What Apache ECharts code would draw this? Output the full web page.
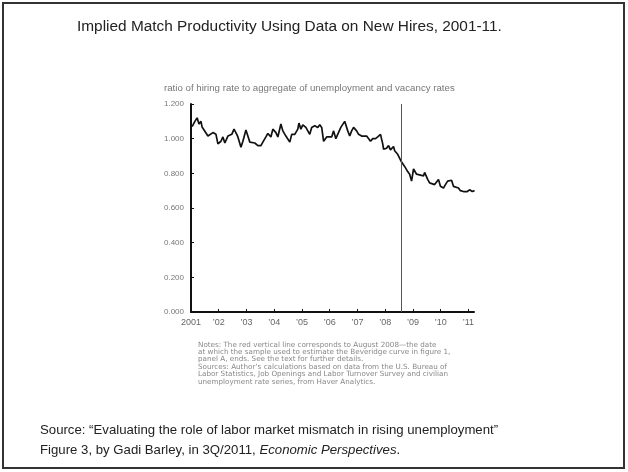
<!DOCTYPE html>
<html>
<head>
<meta charset="utf-8">
<script src="https://cdn.jsdelivr.net/npm/echarts@6/dist/echarts.min.js"></script>
<style>
  html, body { margin: 0; padding: 0; background: #fff; }
  #chart { width: 628px; height: 472px; }
</style>
</head>
<body>
<div id="chart"></div>
<script>
  // positions on the time axis (decimal years) and the ratio read at each
  var years = [
    2001.04, 2001.14, 2001.22, 2001.29, 2001.36, 2001.40, 2001.47, 2001.54, 2001.61, 2001.68, 2001.79, 2001.90, 2001.97,
    2002.08, 2002.15, 2002.22, 2002.33, 2002.40, 2002.47, 2002.55, 2002.65, 2002.69, 2002.80, 2002.87, 2002.98,
    2003.05, 2003.12, 2003.19, 2003.30, 2003.41, 2003.52, 2003.59, 2003.70, 2003.77, 2003.88, 2003.95,
    2004.06, 2004.13, 2004.24, 2004.31, 2004.42, 2004.49, 2004.56, 2004.63, 2004.74, 2004.85, 2004.89, 2004.96,
    2005.03, 2005.14, 2005.21, 2005.28, 2005.35, 2005.46, 2005.57, 2005.64, 2005.71, 2005.78, 2005.89, 2005.96,
    2006.07, 2006.14, 2006.22, 2006.29, 2006.40, 2006.47, 2006.54, 2006.65, 2006.72, 2006.79, 2006.86, 2006.97,
    2007.04, 2007.15, 2007.22, 2007.33, 2007.40, 2007.47, 2007.55, 2007.65, 2007.73, 2007.83, 2007.91, 2007.94,
    2008.05, 2008.12, 2008.19, 2008.30, 2008.34, 2008.41, 2008.45, 2008.52, 2008.59, 2008.66, 2008.70, 2008.81, 2008.88, 2008.95,
    2009.02, 2009.06, 2009.13, 2009.20, 2009.27, 2009.38, 2009.42, 2009.53, 2009.60, 2009.67, 2009.78, 2009.85, 2009.92, 2009.99,
    2010.10, 2010.17, 2010.25, 2010.32, 2010.39, 2010.46, 2010.53, 2010.64, 2010.71, 2010.82, 2010.89, 2010.96,
    2011.04, 2011.14, 2011.22
  ];
  var ratio = [
    1.07, 1.10, 1.12, 1.085, 1.10, 1.067, 1.05, 1.04, 1.015, 1.025, 1.035, 1.025, 0.97,
    0.985, 1.01, 0.975, 1.015, 1.01, 1.025, 1.055, 1.025, 1.01, 0.95, 0.985, 1.05,
    1.015, 0.98, 0.97, 0.975, 0.96, 0.96, 0.98, 1.01, 1.03, 1.01, 1.055,
    1.035, 1.01, 1.085, 1.045, 1.015, 1.01, 0.98, 1.025, 1.025, 1.055, 1.09, 1.055,
    1.08, 1.065, 1.055, 1.025, 1.065, 1.075, 1.065, 1.08, 1.065, 0.985, 1.01, 1.005,
    1.01, 1.045, 1.0, 1.01, 1.065, 1.075, 1.10, 1.045, 1.015, 1.045, 1.065, 1.045,
    1.025, 1.015, 1.025, 1.015, 1.01, 0.985, 1.0, 1.0, 1.01, 1.025, 0.97, 0.94,
    0.945, 0.96, 0.935, 0.955, 0.93, 0.935, 0.91, 0.90, 0.865, 0.865, 0.84, 0.81, 0.795, 0.755,
    0.825, 0.83, 0.795, 0.805, 0.79, 0.785, 0.805, 0.765, 0.745, 0.755, 0.735, 0.745, 0.765, 0.725,
    0.715, 0.735, 0.755, 0.745, 0.76, 0.725, 0.735, 0.715, 0.70, 0.695, 0.69, 0.695,
    0.705, 0.695, 0.70
  ];
  var cutoff = 2008.58;   // August 2008

  var title = 'Implied Match Productivity Using Data on New Hires, 2001-11.';
  var subtitle = 'ratio of hiring rate to aggregate of unemployment and vacancy rates';
  var notes = [
    'Notes: The red vertical line corresponds to August 2008\u2014the date',
    'at which the sample used to estimate the Beveridge curve in figure 1,',
    'panel A, ends. See the text for further details.',
    'Sources: Author\u2019s calculations based on data from the U.S. Bureau of',
    'Labor Statistics, Job Openings and Labor Turnover Survey and civilian',
    'unemployment rate series, from Haver Analytics.'
  ];
  var source1 = 'Source: \u201cEvaluating the role of labor market mismatch in rising unemployment\u201d';
  var source2a = 'Figure 3, by Gadi Barley, in 3Q/2011, ';
  var source2b = 'Economic Perspectives';

  var points = years.map(function (y, i) { return [y, ratio[i]]; });

  var chart = echarts.init(document.getElementById('chart'));
  chart.setOption({
    backgroundColor: '#fff',
    animation: false,
    grid: { left: 191, top: 104, width: 283, height: 208 },
    xAxis: {
      type: 'value', min: 2001, max: 2011.2, interval: 1,
      axisLine: { lineStyle: { color: '#111', width: 2 } },
      axisTick: { inside: true, length: 3, lineStyle: { color: '#111' } },
      splitLine: { show: false },
      axisLabel: {
        color: '#666', fontSize: 9, fontFamily: 'Liberation Sans', margin: 6,
        showMaxLabel: false,
        formatter: function (v) {
          if (Math.abs(v - Math.round(v)) > 0.01) return '';
          if (Math.round(v) === 2001) return '2001';
          return '\u2019' + String(Math.round(v) % 100).padStart(2, '0');
        }
      }
    },
    yAxis: {
      type: 'value', min: 0, max: 1.2, interval: 0.2,
      axisLine: { show: true, lineStyle: { color: '#111', width: 2 } },
      axisTick: { show: true, inside: true, length: 3, lineStyle: { color: '#111' } },
      splitLine: { show: false },
      axisLabel: {
        color: '#777', fontSize: 8, fontFamily: 'Liberation Sans', margin: 7,
        formatter: function (v) { return v.toFixed(3); }
      }
    },
    series: [{
      type: 'line',
      data: points,
      showSymbol: false,
      lineStyle: { color: '#111', width: 1.7 },
      markLine: {
        silent: true,
        symbol: 'none',
        label: { show: false },
        lineStyle: { color: '#555', width: 1, type: 'solid' },
        data: [{ xAxis: cutoff }]
      }
    }],
    graphic: [
      { type: 'rect', shape: { x: 3, y: 3, width: 621, height: 465 },
        style: { fill: 'none', stroke: '#333', lineWidth: 2 } },
      { type: 'text', left: 77, top: 19,
        style: { text: title, font: '15.4px "Liberation Sans"', fill: '#222' } },
      { type: 'text', left: 164, top: 83,
        style: { text: subtitle, font: '9.7px "Liberation Sans"', fill: '#777' } },
      { type: 'text', left: 198, top: 341,
        style: { text: notes.join('\n'), font: '7.2px "DejaVu Sans"', lineHeight: 7.4, fill: '#888' } },
      { type: 'text', left: 40, top: 424,
        style: { text: source1, font: '13.2px "Liberation Sans"', fill: '#222' } },
      { type: 'text', left: 40, top: 444,
        style: {
          text: '{n|' + source2a + '}{i|' + source2b + '}{n|.}',
          rich: {
            n: { font: '13.2px "Liberation Sans"', fill: '#222' },
            i: { font: 'italic 13.2px "Liberation Sans"', fill: '#222' }
          }
        } }
    ]
  });
</script>
</body>
</html>
